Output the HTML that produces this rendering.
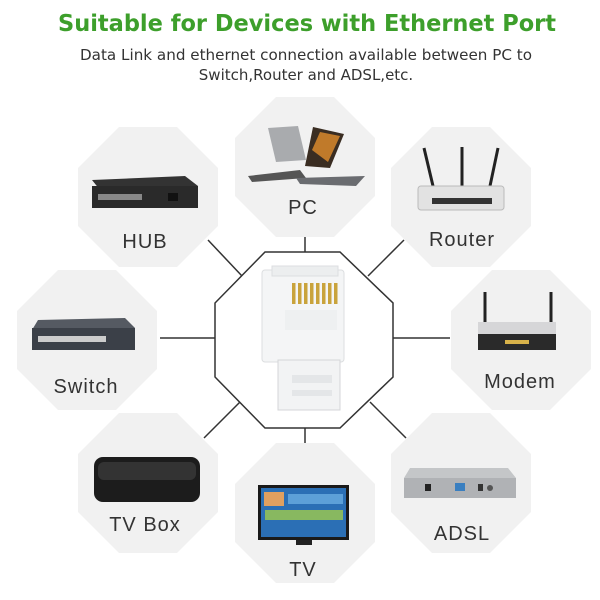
<!DOCTYPE html>
<html><head><meta charset="utf-8"><style>
html,body{margin:0;padding:0;background:#fff;}
svg{display:block}
text{font-family:"Liberation Sans",sans-serif}
.dv{font-family:"DejaVu Sans","Liberation Sans",sans-serif}
</style></head><body>
<svg width="600" height="600" viewBox="0 0 600 600" xmlns="http://www.w3.org/2000/svg">
<rect width="600" height="600" fill="#fff"/>
<text class="dv" x="307" y="31" text-anchor="middle" font-size="23" font-weight="bold" fill="#3d9f2b" textLength="498" lengthAdjust="spacingAndGlyphs">Suitable for Devices with Ethernet Port</text>
<text class="dv" x="306" y="60" text-anchor="middle" font-size="15" fill="#333" textLength="452" lengthAdjust="spacingAndGlyphs">Data Link and ethernet connection available between PC to</text>
<text class="dv" x="306" y="80" text-anchor="middle" font-size="15" fill="#333">Switch,Router and ADSL,etc.</text>

<defs>
<polygon id="oct" points="41,0 99,0 140,41 140,99 99,140 41,140 0,99 0,41"/>
</defs>
<g fill="#f1f1f1">
<use href="#oct" x="235" y="97"/>
<use href="#oct" x="78" y="127"/>
<use href="#oct" x="391" y="127"/>
<use href="#oct" x="17" y="270"/>
<use href="#oct" x="451" y="270"/>
<use href="#oct" x="78" y="413"/>
<use href="#oct" x="391" y="413"/>
<use href="#oct" x="235" y="443"/>
</g>

<g stroke="#333" stroke-width="1.5" fill="none">
<polygon points="265,252 340,252 393,303 393,377 340,428 265,428 215,377 215,303" fill="#fff"/>
<line x1="305" y1="237" x2="305" y2="252"/>
<line x1="305" y1="428" x2="305" y2="443"/>
<line x1="160" y1="338" x2="215" y2="338"/>
<line x1="393" y1="338" x2="450" y2="338"/>
<line x1="208" y1="240" x2="242" y2="276"/>
<line x1="404" y1="240" x2="368" y2="276"/>
<line x1="204" y1="438" x2="240" y2="402"/>
<line x1="406" y1="438" x2="370" y2="402"/>
</g>

<!-- connector -->
<g>
<rect x="262" y="270" width="82" height="92" rx="3" fill="#f4f5f6" stroke="#dcdee0"/>
<rect x="272" y="266" width="66" height="10" fill="#eceeef" stroke="#dcdee0"/>
<rect x="278" y="360" width="62" height="50" fill="#f2f3f4" stroke="#d4d6d8"/>
<rect x="292" y="375" width="40" height="8" fill="#e4e6e8"/>
<rect x="292" y="390" width="40" height="6" fill="#e4e6e8"/>
<g fill="#c9a33c">
<rect x="292" y="283" width="3.5" height="21"/><rect x="298" y="283" width="3.5" height="21"/>
<rect x="304" y="283" width="3.5" height="21"/><rect x="310" y="283" width="3.5" height="21"/>
<rect x="316" y="283" width="3.5" height="21"/><rect x="322" y="283" width="3.5" height="21"/>
<rect x="328" y="283" width="3.5" height="21"/><rect x="334" y="283" width="3.5" height="21"/>
</g>
<rect x="285" y="310" width="52" height="20" fill="#eef0f1"/>
</g>

<!-- PC laptops -->
<polygon points="268,128 298,126 306,160 276,162" fill="#a9abae"/>
<polygon points="248,176 300,170 306,178 252,182" fill="#555"/>
<polygon points="305,166 313,127 344,134 330,168" fill="#3a2d22"/>
<polygon points="312,150 320,132 340,136 328,162" fill="#c07a2a"/>
<polygon points="296,178 365,176 356,186 300,184" fill="#6a6c70"/>
<!-- HUB -->
<polygon points="92,180 185,176 198,186 100,190" fill="#333"/>
<rect x="92" y="186" width="106" height="22" fill="#2a2a2a"/>
<rect x="98" y="194" width="44" height="6" fill="#888"/>
<rect x="168" y="193" width="10" height="8" fill="#111"/>
<!-- Router -->
<line x1="424" y1="148" x2="433" y2="186" stroke="#222" stroke-width="3"/>
<line x1="462" y1="147" x2="462" y2="186" stroke="#222" stroke-width="3"/>
<line x1="498" y1="148" x2="490" y2="186" stroke="#222" stroke-width="3"/>
<rect x="418" y="186" width="86" height="24" rx="3" fill="#e2e2e2" stroke="#bbb"/>
<rect x="432" y="198" width="60" height="6" fill="#333"/>
<!-- Switch -->
<polygon points="38,320 125,318 135,328 32,330" fill="#555a62"/>
<rect x="32" y="328" width="103" height="22" fill="#3b4048"/>
<rect x="38" y="336" width="68" height="6" fill="#ccc"/>
<!-- Modem -->
<line x1="485" y1="292" x2="485" y2="350" stroke="#222" stroke-width="3"/>
<line x1="551" y1="292" x2="551" y2="350" stroke="#222" stroke-width="3"/>
<rect x="478" y="322" width="78" height="12" fill="#d6d6d8"/>
<rect x="478" y="334" width="78" height="16" fill="#2a2a2a"/>
<rect x="505" y="340" width="24" height="4" fill="#d8b24a"/>
<!-- TV Box -->
<rect x="94" y="457" width="106" height="45" rx="9" fill="#1c1c1c"/>
<rect x="98" y="462" width="98" height="18" rx="6" fill="#333"/>
<!-- TV -->
<rect x="258" y="485" width="91" height="55" fill="#1a1a1a"/>
<rect x="261" y="488" width="85" height="49" fill="#2b6fb5"/>
<rect x="264" y="492" width="20" height="14" fill="#e0a060"/>
<rect x="288" y="494" width="55" height="10" fill="#5da0d8"/>
<rect x="265" y="510" width="78" height="10" fill="#88b860"/>
<rect x="296" y="540" width="16" height="5" fill="#222"/>
<!-- ADSL -->
<polygon points="410,468 508,468 516,478 404,478" fill="#c4c6c8"/>
<rect x="404" y="478" width="112" height="20" fill="#b0b2b5"/>
<rect x="425" y="484" width="6" height="7" fill="#222"/>
<rect x="455" y="483" width="10" height="8" fill="#3a7fc0"/>
<rect x="478" y="484" width="5" height="7" fill="#333"/>
<circle cx="490" cy="488" r="3" fill="#555"/>

<g font-size="20" fill="#333" text-anchor="middle" letter-spacing="1">
<text x="303" y="214">PC</text>
<text x="145" y="248">HUB</text>
<text x="462" y="246">Router</text>
<text x="86" y="393">Switch</text>
<text x="520" y="388">Modem</text>
<text x="145" y="531">TV Box</text>
<text x="462" y="540">ADSL</text>
<text x="303" y="576">TV</text>
</g>
</svg>
</body></html>
